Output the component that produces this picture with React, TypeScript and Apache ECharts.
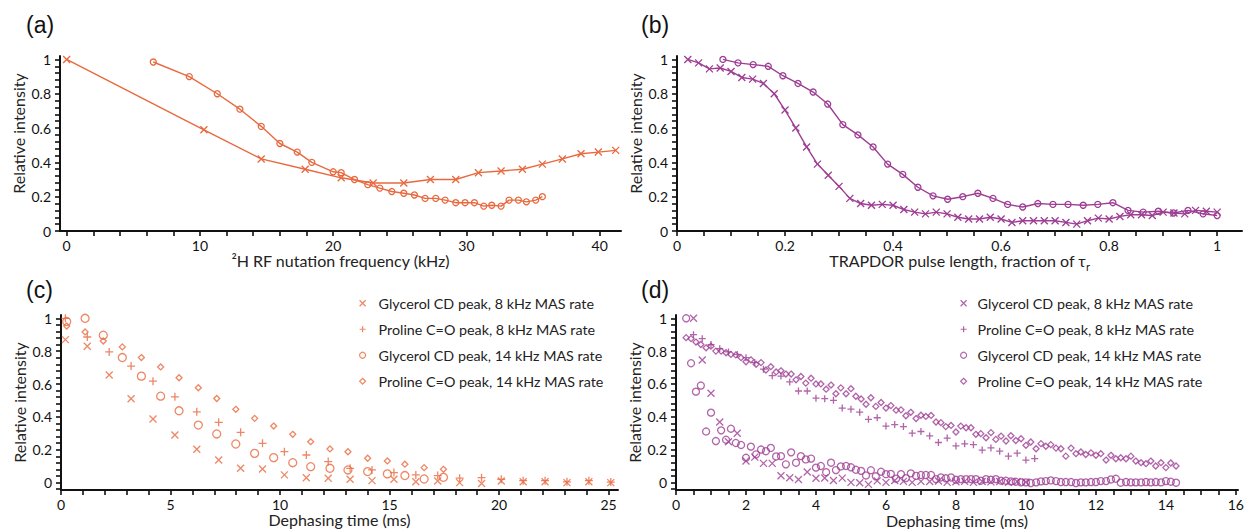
import React, { useEffect, useRef } from 'react';
import * as echarts from 'echarts';

// ---------- colours / symbols ----------
const ORANGE = '#E8693F';
const PURPLE = '#9E3D94';
const FONT = 'Lato, "Open Sans", sans-serif';
const CROSS = 'path://M0,0L10,10M0,10L10,0';
const PLUS = 'path://M5,0L5,10M0,5L10,5';

// ---------- panel (a) ----------
const aFreqCross = [0, 10.3, 14.6, 17.9, 20.6, 23.0, 25.3, 27.3, 29.2, 30.9, 32.6, 34.2, 35.7, 37.2, 38.6, 39.9, 41.2];
const aIntCross = [1.0, 0.59, 0.42, 0.36, 0.31, 0.28, 0.28, 0.30, 0.30, 0.34, 0.35, 0.36, 0.39, 0.42, 0.45, 0.46, 0.47];
const aFreqCircle = [6.5, 9.2, 11.3, 13.0, 14.6, 16.0, 17.3, 18.4, 20.0, 20.6, 21.6, 22.6, 23.5, 24.4, 25.3, 26.1, 26.9, 27.7, 28.4, 29.2, 29.9, 30.6, 31.3, 31.9, 32.6, 33.2, 33.9, 34.5, 35.2, 35.7];
const aIntCircle = [0.985, 0.90, 0.80, 0.71, 0.61, 0.51, 0.46, 0.40, 0.345, 0.34, 0.30, 0.27, 0.25, 0.23, 0.22, 0.21, 0.19, 0.19, 0.18, 0.165, 0.165, 0.165, 0.145, 0.15, 0.145, 0.18, 0.18, 0.17, 0.18, 0.20];

// ---------- panel (b) ----------
const bPulseCross = [0.02, 0.04, 0.06, 0.08, 0.10, 0.12, 0.14, 0.16, 0.18, 0.20, 0.22, 0.24, 0.26, 0.28, 0.30, 0.32, 0.34, 0.36, 0.38, 0.40, 0.42, 0.44, 0.46, 0.48, 0.50, 0.52, 0.54, 0.56, 0.58, 0.60, 0.62, 0.64, 0.66, 0.68, 0.70, 0.72, 0.74, 0.76, 0.78, 0.80, 0.82, 0.84, 0.86, 0.88, 0.90, 0.92, 0.94, 0.96, 0.98, 1.00];
const bIntCross = [1.0, 0.98, 0.945, 0.95, 0.93, 0.895, 0.885, 0.86, 0.80, 0.705, 0.60, 0.49, 0.39, 0.325, 0.26, 0.19, 0.16, 0.15, 0.155, 0.15, 0.125, 0.11, 0.10, 0.11, 0.10, 0.08, 0.07, 0.07, 0.08, 0.07, 0.05, 0.06, 0.06, 0.06, 0.06, 0.05, 0.04, 0.06, 0.075, 0.07, 0.085, 0.095, 0.095, 0.09, 0.11, 0.105, 0.10, 0.12, 0.115, 0.11];
const bPulseCircle = [0.085, 0.113, 0.141, 0.169, 0.196, 0.224, 0.252, 0.279, 0.307, 0.335, 0.363, 0.39, 0.418, 0.446, 0.474, 0.501, 0.529, 0.557, 0.585, 0.612, 0.64, 0.668, 0.696, 0.724, 0.752, 0.779, 0.807, 0.835, 0.863, 0.891, 0.919, 0.946, 0.974, 1.0];
const bIntCircle = [1.0, 0.98, 0.97, 0.96, 0.905, 0.86, 0.81, 0.74, 0.62, 0.56, 0.49, 0.39, 0.33, 0.255, 0.205, 0.185, 0.20, 0.22, 0.19, 0.155, 0.14, 0.16, 0.155, 0.155, 0.15, 0.155, 0.165, 0.12, 0.11, 0.115, 0.105, 0.12, 0.10, 0.09];

// ---------- panel (c) ----------
const cTime8 = [0.2, 1.2, 2.2, 3.2, 4.2, 5.2, 6.2, 7.2, 8.2, 9.2, 10.2, 11.2, 12.2, 13.2, 14.2, 15.2, 16.2, 17.2, 18.2, 19.2, 20.1, 21.1, 22.1, 23.1, 24.1, 25.1];
const cGly8 = [0.87, 0.83, 0.655, 0.51, 0.387, 0.29, 0.203, 0.138, 0.087, 0.083, 0.047, 0.03, 0.027, 0.02, 0.012, 0.02, 0.005, 0.01, 0.0, -0.005, 0.01, 0.005, 0.005, 0.0, 0.005, 0.0];
const cPro8 = [1.0, 0.886, 0.795, 0.709, 0.617, 0.522, 0.431, 0.367, 0.306, 0.239, 0.188, 0.168, 0.128, 0.087, 0.077, 0.061, 0.047, 0.043, 0.027, 0.03, 0.02, 0.012, 0.012, 0.005, 0.012, 0.003];
const cTime14 = [0.26, 1.1, 1.93, 2.8, 3.67, 4.55, 5.39, 6.27, 7.11, 7.98, 8.84, 9.71, 10.58, 11.4, 12.28, 13.1, 14.0, 14.9, 15.7, 16.58, 17.46];
const cGly14 = [0.98, 1.0, 0.897, 0.761, 0.648, 0.526, 0.437, 0.35, 0.296, 0.235, 0.178, 0.152, 0.121, 0.097, 0.087, 0.077, 0.067, 0.053, 0.043, 0.022, 0.032];
const cPro14 = [0.953, 0.917, 0.862, 0.826, 0.761, 0.704, 0.638, 0.577, 0.512, 0.446, 0.391, 0.344, 0.294, 0.249, 0.205, 0.188, 0.148, 0.132, 0.112, 0.091, 0.081];

// ---------- panel (d) ----------
const dTime8 = [0.5, 0.75, 1.0, 1.25, 1.5, 1.75, 2.0, 2.25, 2.5, 2.75, 3.0, 3.25, 3.5, 3.75, 4.0, 4.25, 4.5, 4.75, 5.0, 5.25, 5.5, 5.75, 6.0, 6.25, 6.5, 6.75, 7.0, 7.25, 7.5, 7.75, 8.0, 8.25, 8.5, 8.75, 9.0, 9.25, 9.5, 9.75, 10.0, 10.25];
const dGly8 = [1.0, 0.746, 0.543, 0.368, 0.248, 0.299, 0.13, 0.154, 0.116, 0.116, 0.04, 0.028, 0.018, 0.063, 0.025, 0.027, 0.012, 0.026, 0.0, -0.002, -0.012, 0.009, 0.0, 0.012, 0.006, 0.0, 0.006, 0.005, 0.008, 0.0, 0.004, 0.006, 0.0, 0.005, 0.003, 0.005, 0.0, 0.005, 0.002];
const dPro8 = [0.90, 0.876, 0.84, 0.815, 0.795, 0.78, 0.76, 0.73, 0.69, 0.65, 0.648, 0.612, 0.557, 0.557, 0.513, 0.51, 0.50, 0.453, 0.446, 0.428, 0.384, 0.394, 0.343, 0.352, 0.34, 0.30, 0.31, 0.283, 0.243, 0.27, 0.222, 0.235, 0.23, 0.197, 0.21, 0.19, 0.16, 0.178, 0.136, 0.145];
const dTime14 = [0.29, 0.43, 0.57, 0.71, 0.86, 1.0, 1.14, 1.29, 1.43, 1.57, 1.71, 1.86, 2.0, 2.14, 2.29, 2.43, 2.57, 2.71, 2.86, 3.0, 3.14, 3.29, 3.43, 3.57, 3.71, 3.86, 4.0, 4.14, 4.29, 4.43, 4.57, 4.71, 4.86, 5.0, 5.14, 5.29, 5.43, 5.57, 5.71, 5.86, 6.0, 6.14, 6.29, 6.43, 6.57, 6.71, 6.86, 7.0, 7.14, 7.29, 7.43, 7.57, 7.71, 7.86, 8.0, 8.14, 8.29, 8.43, 8.57, 8.71, 8.86, 9.0, 9.14, 9.29, 9.43, 9.57, 9.71, 9.86, 10.0, 10.14, 10.29, 10.43, 10.57, 10.71, 10.86, 11.0, 11.14, 11.29, 11.43, 11.57, 11.71, 11.86, 12.0, 12.14, 12.29, 12.43, 12.57, 12.71, 12.86, 13.0, 13.14, 13.29, 13.43, 13.57, 13.71, 13.86, 14.0, 14.14, 14.29];
const dGly14 = [
  1.0, 0.726, 0.553, 0.59, 0.31, 0.425, 0.252, 0.317, 0.26, 0.327,
  0.24, 0.228, 0.15, 0.218, 0.171, 0.2, 0.19, 0.21, 0.158, 0.16,
  0.11, 0.183, 0.12, 0.16, 0.14, 0.145, 0.09, 0.1, 0.062, 0.12,
  0.075, 0.097, 0.1, 0.092, 0.077, 0.07, 0.042, 0.074, 0.037, 0.065,
  0.05, 0.052, 0.023, 0.05, 0.026, 0.055, 0.04, 0.045, 0.045, 0.045,
  0.02, 0.03, 0.025, 0.03, 0.016, 0.02, 0.02, 0.02, 0.02, 0.01,
  0.02, 0.016, 0.02, 0.01, 0.01, 0.006, 0.004, 0.0, 0.0, -0.004,
  0.0, 0.006, 0.008, 0.012, 0.008, 0.002, 0.002, 0.002, -0.004, 0.0,
  0.0, 0.002, 0.002, 0.008, 0.008, 0.018, 0.022, -0.002, 0.002, 0.0,
  0.0, 0.0, 0.002, 0.0, 0.002, 0.0, 0.008, 0.004, -0.002,
];
const dPro14 = [
  0.882, 0.876, 0.855, 0.84, 0.82, 0.83, 0.8, 0.8, 0.79, 0.78,
  0.777, 0.76, 0.735, 0.747, 0.72, 0.73, 0.685, 0.705, 0.673, 0.68,
  0.66, 0.66, 0.625, 0.645, 0.605, 0.635, 0.6, 0.6, 0.568, 0.593,
  0.54, 0.576, 0.54, 0.571, 0.525, 0.508, 0.476, 0.516, 0.463, 0.487,
  0.453, 0.468, 0.44, 0.442, 0.406, 0.427, 0.389, 0.409, 0.402, 0.408,
  0.368, 0.364, 0.34, 0.347, 0.307, 0.343, 0.333, 0.333, 0.293, 0.297,
  0.272, 0.303, 0.262, 0.282, 0.252, 0.284, 0.255, 0.266, 0.226, 0.246,
  0.205, 0.236, 0.22, 0.23, 0.209, 0.205, 0.16, 0.209, 0.175, 0.185,
  0.17, 0.18, 0.165, 0.175, 0.136, 0.165, 0.144, 0.15, 0.144, 0.16,
  0.13, 0.12, 0.114, 0.13, 0.1, 0.12, 0.09, 0.118, 0.1,
];

// ---------- ticks / labels ----------
const yLabels = [0, 0.2, 0.4, 0.6, 0.8, 1];
const aXLabels = [0, 10, 20, 30, 40];
const bXLabels = [0, 0.2, 0.4, 0.6, 0.8, 1];
const cXLabels = [0, 5, 10, 15, 20, 25];
const dXLabels = [0, 2, 4, 6, 8, 10, 12, 14, 16];

const legendNames = [
  'Glycerol CD peak, 8 kHz MAS rate',
  'Proline C=O peak, 8 kHz MAS rate',
  'Glycerol CD peak, 14 kHz MAS rate',
  'Proline C=O peak, 14 kHz MAS rate',
];

function steps(from: number, to: number, step: number): number[] {
  const out: number[] = [];
  const n = Math.round((to - from) / step);
  for (let i = 0; i <= n; i++) out.push(+(from + i * step).toFixed(4));
  return out;
}

const zip = (xs: number[], ys: number[]) => ys.map((y, i) => [xs[i], y]);

const TICK = { show: true, length: 5, inside: false, lineStyle: { color: '#111', width: 1.6 } };
const AXLINE = { show: true, onZero: false, lineStyle: { color: '#111', width: 2 } };
const LABEL = { fontFamily: FONT, fontSize: 14, color: '#111' };
const TITLE_SIZE = 16;

function xAxis(gi: number, min: number, max: number, ticks: number[], labels: number[], name: string, extra: any = {}) {
  return {
    type: 'value', gridIndex: gi, min, max,
    axisLine: AXLINE,
    axisTick: { ...TICK, customValues: ticks },
    axisLabel: { ...LABEL, margin: 7, customValues: labels },
    splitLine: { show: false },
    name, nameLocation: 'middle', nameGap: 21,
    nameTextStyle: { fontFamily: FONT, fontSize: TITLE_SIZE, color: '#222', verticalAlign: 'top' },
    ...extra,
  };
}

function yAxis(gi: number, min: number, max: number, ticks: number[], shift: number) {
  return {
    type: 'value', gridIndex: gi, min, max,
    axisLine: AXLINE,
    axisTick: { ...TICK, customValues: ticks },
    axisLabel: { ...LABEL, margin: 9, customValues: yLabels },
    splitLine: { show: false },
    name: 'Relative intensity', nameLocation: 'middle', nameGap: 34,
    nameTextStyle: { fontFamily: FONT, fontSize: TITLE_SIZE, color: '#222', padding: [0, 0, 0, shift] },
  };
}

const hollow = (c: string, w = 1.3) => ({ color: 'rgba(0,0,0,0)', borderColor: c, borderWidth: w });

function lineSeries(name: string, xi: number, data: number[][], symbol: string, size: number, c: string) {
  return {
    type: 'line', name, xAxisIndex: xi, yAxisIndex: xi, data,
    symbol, symbolSize: size, showSymbol: true, showAllSymbol: true,
    lineStyle: { color: c, width: 1.4 }, itemStyle: hollow(c, 1.3), silent: true,
  };
}

function scatterSeries(name: string, xi: number, data: number[][], symbol: string, size: number, c: string) {
  return {
    type: 'scatter', name, xAxisIndex: xi, yAxisIndex: xi, data,
    symbol, symbolSize: size, itemStyle: hollow(c, 1.3), silent: true,
  };
}

function legend(prefix: string, left: number, c: string, pad: number) {
  const icons = [CROSS, PLUS, 'circle', 'diamond'];
  return {
    orient: 'vertical', left, top: 290, itemWidth: 6, itemHeight: 6, itemGap: 9.5,
    selectedMode: false,
    textStyle: { fontFamily: FONT, fontSize: 14.3, lineHeight: 16.5, color: '#222', padding: [0, 0, 0, pad] },
    formatter: (n: string) => n.slice(2),
    data: legendNames.map((n, i) => ({ name: prefix + n, icon: icons[i], itemStyle: hollow(c, 1.2) })),
  };
}

const panelLabel = (t: string, x: number, y: number) => ({
  type: 'text', left: x, top: y,
  style: { text: t, fontFamily: '"Liberation Sans", Arial, sans-serif', fontSize: 23, fill: '#111' },
});

const yTicksAB = steps(0, 1, 0.04);
const yTicksCD = steps(-0.04, 1, 0.04);

const option: any = {
  animation: false,
  backgroundColor: '#fff',
  grid: [
    { left: 60, top: 56, width: 561, height: 175 },
    { left: 677, top: 56, width: 565, height: 175 },
    { left: 61, top: 315, width: 557, height: 175 },
    { left: 676, top: 315, width: 566, height: 176 },
  ],
  xAxis: [
    xAxis(0, -0.5, 41.6, steps(0, 40, 2), aXLabels, '²H RF nutation frequency (kHz)'),
    xAxis(1, 0, 1.046, steps(0, 1, 0.05), bXLabels, '{a|TRAPDOR pulse length, fraction of τ}{s|r}', {
      nameGap: 18,
      nameTextStyle: {
        verticalAlign: 'top',
        rich: {
          a: { fontFamily: FONT, fontSize: TITLE_SIZE, color: '#222', lineHeight: 22 },
          s: { fontFamily: FONT, fontSize: 11, color: '#222', verticalAlign: 'bottom' },
        },
      },
    }),
    xAxis(2, 0, 25.43, steps(0, 25, 1), cXLabels, 'Dephasing time (ms)'),
    xAxis(3, 0, 16.06, steps(0, 16, 0.5), dXLabels, 'Dephasing time (ms)'),
  ],
  yAxis: [
    yAxis(0, 0, 1.02, yTicksAB, 20),
    yAxis(1, 0, 1.02, yTicksAB, 20),
    yAxis(2, -0.045, 1.02, yTicksCD, 0),
    yAxis(3, -0.047, 1.02, yTicksCD, 0),
  ],
  legend: [legend('c:', 354, ORANGE, 8), legend('d:', 955, PURPLE, 6)],
  graphic: [
    panelLabel('(a)', 26, 13),
    panelLabel('(b)', 641, 13),
    panelLabel('(c)', 26, 278),
    panelLabel('(d)', 641, 278),
  ],
  series: [
    lineSeries('a:cross', 0, zip(aFreqCross, aIntCross), CROSS, 7, ORANGE),
    lineSeries('a:circle', 0, zip(aFreqCircle, aIntCircle), 'circle', 6, ORANGE),
    lineSeries('b:cross', 1, zip(bPulseCross, bIntCross), CROSS, 7, PURPLE),
    lineSeries('b:circle', 1, zip(bPulseCircle, bIntCircle), 'circle', 6, PURPLE),
    scatterSeries('c:' + legendNames[0], 2, zip(cTime8, cGly8), CROSS, 7, ORANGE),
    scatterSeries('c:' + legendNames[1], 2, zip(cTime8, cPro8), PLUS, 8, ORANGE),
    scatterSeries('c:' + legendNames[2], 2, zip(cTime14, cGly14), 'circle', 8, ORANGE),
    scatterSeries('c:' + legendNames[3], 2, zip(cTime14, cPro14), 'diamond', 6, ORANGE),
    scatterSeries('d:' + legendNames[0], 3, zip(dTime8, dGly8), CROSS, 7, PURPLE),
    scatterSeries('d:' + legendNames[1], 3, zip(dTime8, dPro8), PLUS, 7, PURPLE),
    scatterSeries('d:' + legendNames[2], 3, zip(dTime14, dGly14), 'circle', 7, PURPLE),
    scatterSeries('d:' + legendNames[3], 3, zip(dTime14, dPro14), 'diamond', 6, PURPLE),
  ],
};

export default function App() {
  const ref = useRef<HTMLDivElement>(null);
  useEffect(() => {
    if (!ref.current) return;
    const chart = echarts.init(ref.current, undefined, { renderer: 'svg' });
    chart.setOption(option);
    return () => chart.dispose();
  }, []);
  return (
    <div
      ref={ref}
      style={{ position: 'fixed', left: 0, top: 0, width: 1247, height: 529, background: '#fff' }}
    />
  );
}
